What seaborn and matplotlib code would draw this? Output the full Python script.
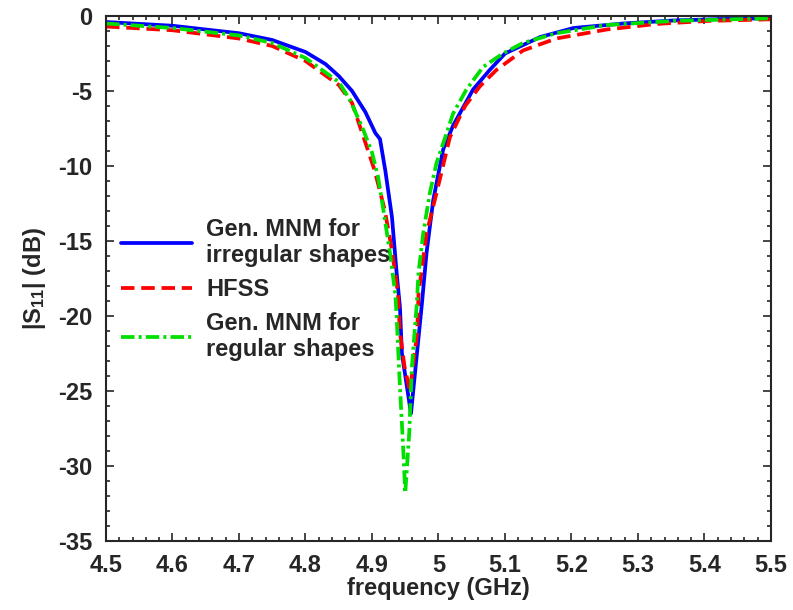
import numpy as np
import pandas as pd
import matplotlib
matplotlib.use("Agg")
import matplotlib.pyplot as plt
import seaborn as sns
from matplotlib.ticker import MultipleLocator

sns.set_style("ticks")
plt.rcParams['font.family'] = ['Liberation Sans', 'DejaVu Sans']
plt.rcParams['font.weight'] = 'bold'
plt.rcParams['axes.unicode_minus'] = False
plt.rcParams['mathtext.fontset'] = 'custom'
plt.rcParams['mathtext.rm'] = 'Liberation Sans:bold'
plt.rcParams['mathtext.bf'] = 'Liberation Sans:bold'
plt.rcParams['mathtext.it'] = 'Liberation Sans:bold'

# Gen. MNM for irregular shapes
f_irr = [4.5, 4.6, 4.7, 4.75, 4.8, 4.83, 4.85, 4.87, 4.89, 4.905, 4.912, 4.92, 4.93, 4.937,
         4.942, 4.945, 4.9586, 4.975, 4.982, 4.992, 5.007, 5.022, 5.032, 5.052, 5.077, 5.10,
         5.153, 5.203, 5.278, 5.353, 5.428, 5.5]
s_irr = [-0.4, -0.65, -1.15, -1.6, -2.4, -3.2, -4.0, -5.0, -6.4, -7.8, -8.2, -10.3, -13.4, -17.1,
         -19.4, -22.5, -26.5, -19.2, -15.8, -12.3, -8.9, -7.3, -6.5, -4.9, -3.6, -2.5,
         -1.4, -0.8, -0.5, -0.3, -0.2, -0.15]
# HFSS
f_hfss = [4.5, 4.6, 4.7, 4.75, 4.8, 4.85, 4.87, 4.889, 4.904, 4.919, 4.93, 4.939, 4.942, 4.949,
          4.957, 4.968, 4.97, 4.982, 4.997, 5.01, 5.017, 5.03, 5.04, 5.062, 5.087, 5.127,
          5.177, 5.253, 5.328, 5.403, 5.5]
s_hfss = [-0.7, -0.95, -1.5, -2.0, -3.0, -4.6, -5.8, -8.3, -10.3, -12.9, -15.6, -18.5, -21.1, -23.4,
          -25.0, -21.1, -18.5, -14.5, -11.8, -9.4, -8.1, -6.9, -6.0, -4.7, -3.6, -2.3,
          -1.5, -0.9, -0.53, -0.33, -0.22]
# Gen. MNM for regular shapes
f_reg = [4.5, 4.6, 4.7, 4.75, 4.8, 4.85, 4.867, 4.887, 4.9, 4.909, 4.917, 4.927, 4.935, 4.937,
         4.942, 4.947, 4.95, 4.956, 4.96, 4.967, 4.97, 4.977, 4.987, 4.997, 5.01, 5.022, 5.042,
         5.067, 5.097, 5.127, 5.177, 5.253, 5.353, 5.5]
s_reg = [-0.5, -0.8, -1.3, -1.8, -2.8, -4.4, -5.6, -7.6, -9.1, -10.7, -12.9, -15.8, -18.5, -20.0,
         -24.7, -28.9, -31.8, -27.8, -23.4, -19.4, -17.1, -14.5, -11.8, -9.8, -8.1, -6.5, -4.9,
         -3.4, -2.5, -1.8, -1.15, -0.6, -0.33, -0.15]

labels = ["Gen. MNM for\nirregular shapes", "HFSS", "Gen. MNM for\nregular shapes"]
xtick_labels = ["4.5", "4.6", "4.7", "4.8", "4.9", "5", "5.1", "5.2", "5.3", "5.4", "5.5"]

df_irr = pd.DataFrame({"f": f_irr, "s": s_irr})
df_hfss = pd.DataFrame({"f": f_hfss, "s": s_hfss})
df_reg = pd.DataFrame({"f": f_reg, "s": s_reg})

fig = plt.figure(figsize=(7.93, 6.10), dpi=100)
ax = fig.add_axes([106/793, 1 - 541/610, (771-106)/793, (541-16)/610])

sns.lineplot(data=df_irr, x="f", y="s", ax=ax, color="#0000ff", lw=2.7,
             label=labels[0], sort=False)
sns.lineplot(data=df_hfss, x="f", y="s", ax=ax, color="#ff0000", lw=2.7,
             label=labels[1], sort=False, linestyle=(0, (3.6, 1.8)))
sns.lineplot(data=df_reg, x="f", y="s", ax=ax, color="#00e000", lw=2.7,
             label=labels[2], sort=False, linestyle=(0, (3.6, 1.1, 0.8, 1.1)))

ax.set_xlim(4.5, 5.5)
ax.set_ylim(-35, 0)
ax.set_xticks(np.arange(4.5, 5.51, 0.1))
ax.set_xticklabels(xtick_labels)
ax.xaxis.set_minor_locator(MultipleLocator(0.02))
ax.yaxis.set_major_locator(MultipleLocator(5))
ax.yaxis.set_minor_locator(MultipleLocator(1))
ax.tick_params(which="both", direction="in", top=True, right=True, labelsize=17, width=1.2)
ax.tick_params(which="major", length=6)
ax.tick_params(axis="x", which="major", pad=9)
ax.tick_params(axis="y", which="major", pad=10)
ax.tick_params(which="minor", length=3)
for sp in ax.spines.values():
    sp.set_linewidth(1.5)
    sp.set_visible(True)

ax.set_xlabel("frequency (GHz)", fontsize=17, fontweight="bold", labelpad=0)
ax.set_ylabel("|S$_{11}$| (dB)", fontsize=17, fontweight="bold", labelpad=7)

leg = ax.legend(loc="upper left", bbox_to_anchor=(0.0, 0.645), frameon=False,
                fontsize=17, handlelength=3.0, handletextpad=0.6, labelspacing=0.45,
                borderaxespad=0.25)
for t in leg.get_texts():
    t.set_fontweight("bold")

fig.savefig("out.png", dpi=100)
